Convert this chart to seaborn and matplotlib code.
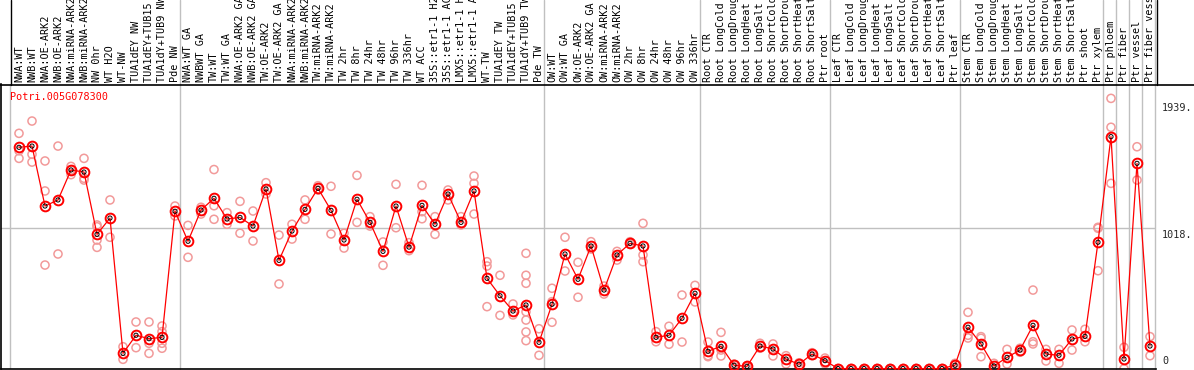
import numpy as np
import pandas as pd
import seaborn as sns
import matplotlib.pyplot as plt
from matplotlib.lines import Line2D
import matplotlib.transforms as mtransforms

sns.set_style('white')
plt.rcParams['font.family'] = ['DejaVu Sans Mono']

gene = 'Potri.005G078300'

samples = [
    'NWA:WT', 'NWB:WT', 'NWA:OE-ARK2', 'NWB:OE-ARK2', 'NWA:miRNA-ARK2', 'NWB:miRNA-ARK2',
    'NW 0hr', 'WT H2O', 'WT-NW', 'TUA1dEY NW', 'TUA1dEY+TUB15 NW', 'TUA1dY+TUB9 NW', 'Pde NW',
    'NWA:WT GA', 'NWBWT GA', 'TW:WT', 'TW:WT GA', 'NWA:OE-ARK2 GA', 'NWB:OE-ARK2 GA',
    'TW:OE-ARK2', 'TW:OE-ARK2 GA', 'NWA:miRNA-ARK2', 'NWB:miRNA-ARK2', 'TW:miRNA-ARK2',
    'TW:miRNA-ARK2', 'TW 2hr', 'TW 8hr', 'TW 24hr', 'TW 48hr', 'TW 96hr', 'TW 336hr', 'WT ACC',
    '35S::etr1-1 H2O', '35S::etr1-1 ACC', 'LMX5::etr1-1 H2O', 'LMX5::etr1-1 ACC', 'WT-TW',
    'TUA1dEY TW', 'TUA1dEY+TUB15 TW', 'TUA1dY+TUB9 TW', 'Pde TW',
    'OW:WT', 'OW:WT GA', 'OW:OE-ARK2', 'OW:OE-ARK2 GA', 'OW:miRNA-ARK2', 'OW:miRNA-ARK2',
    'OW 2hr', 'OW 8hr', 'OW 24hr', 'OW 48hr', 'OW 96hr', 'OW 336hr',
    'Root CTR', 'Root LongCold', 'Root LongDrought', 'Root LongHeat', 'Root LongSalt',
    'Root ShortCold', 'Root ShortDrought', 'Root ShortHeat', 'Root ShortSalt', 'Ptr root',
    'Leaf CTR', 'Leaf LongCold', 'Leaf LongDrought', 'Leaf LongHeat', 'Leaf LongSalt',
    'Leaf ShortCold', 'Leaf ShortDrought', 'Leaf ShortHeat', 'Leaf ShortSalt', 'Ptr leaf',
    'Stem CTR', 'Stem LongCold', 'Stem LongDrought', 'Stem LongHeat', 'Stem LongSalt',
    'Stem ShortCold', 'Stem ShortDrought', 'Stem ShortHeat', 'Stem ShortSalt', 'Ptr shoot',
    'Ptr xylem', 'Ptr phloem', 'Ptr fiber', 'Ptr vessel', 'Ptr fiber vessel',
]

# index of the last sample in each group
group_ends = [12, 40, 52, 62, 72, 83, 84, 85, 86, 87]

means = [
    1602, 1611, 1177, 1221, 1438, 1423, 972, 1090, 111, 242, 217, 227, 1139,
    922, 1148, 1233, 1083, 1095, 1032, 1300, 784, 996, 1153, 1305, 1146, 931, 1226,
    1059, 849, 1177, 880, 1182, 1045, 1264, 1059, 1286, 654, 528, 417, 461, 191,
    466, 830, 647, 888, 569, 823, 907, 888, 227, 242, 365, 546,
    126, 162, 25, 17, 164, 143, 70, 32, 106, 58,
    1, 1, 1, 1, 1, 1, 1, 1, 1, 25,
    300, 179, 20, 82, 135, 314, 106, 97, 215, 234,
    915, 1679, 70, 1486, 164,
]

replicates = [
    [1703, 1577, 1522], [1792, 1551, 1495], [1503, 1286, 750], [1611, 830],
    [1464, 1438, 1404], [1522, 1378, 1365], [1040, 1027, 931, 878], [1221, 951],
    [159, 68], [338, 152], [338, 184, 111], [309, 268, 184, 148], [1177, 1105],
    [1037, 806], [1168, 1119], [1441, 1179, 1081], [1129, 1045], [1211, 980],
    [1141, 924], [1346, 1264], [967, 613], [1045, 938], [1221, 1081], [1324, 1293],
    [1320, 975], [980, 873], [1399, 1059], [1100, 1032], [917, 748], [1334, 1020],
    [912, 854], [1327, 1136, 1085], [1100, 972], [1293, 1221], [1100, 1040],
    [1394, 1341, 1119], [774, 743, 449], [676, 386], [468, 389],
    [835, 676, 618, 412, 352, 266, 203], [289, 97],
    [582, 485, 336], [951, 707], [770, 517], [919, 866], [598, 540], [849, 786],
    [919, 902], [1052, 823, 774], [268, 195], [307, 177], [533, 193], [603, 483],
    [193, 94, 87], [263, 135, 92], [34, 14], [22, 12], [184, 148], [179, 92],
    [94, 34], [43, 20], [116, 94], [77, 34],
    [2, 1], [2, 1], [2, 1], [2, 1], [2, 1], [2, 1], [2, 1], [2, 1], [2, 1], [39, 10],
    [408, 242, 222], [232, 220, 87], [39, 0], [140, 34], [148, 119],
    [569, 195, 179], [140, 56], [140, 39], [280, 135], [285, 195],
    [1023, 1016, 709], [1956, 1747, 1341], [155, 0], [1606, 1365], [232, 94],
]

y_ticks = [0, 1018, 1939]
y_tick_labels = ['0', '1018.', '1939.']

pos = np.arange(len(samples))
rep_df = pd.DataFrame(
    [(i, v) for i, vals in enumerate(replicates) for v in vals],
    columns=['pos', 'value'])
mean_df = pd.DataFrame({'pos': pos, 'value': means})

W, H = 1194, 370
fig = plt.figure(figsize=(W / 100, H / 100), dpi=100)
ax = fig.add_axes([1 / W, 1 / H, 1155 / W, 285 / H])

ax.set_xlim((1 - 19) / 13, (1156 - 19) / 13)
ax.set_ylim(-2.2, 2060)

grey = '#c0c0c0'
ax_top = 369 / 285
ax.axvline(-0.69, 0, 1, color=grey, lw=1, zorder=0)
for g in group_ends:
    ax.axvline(g + 0.385, 0, ax_top, color=grey, lw=1, zorder=0, clip_on=False)
ax.axhline(1018, color=grey, lw=1, zorder=0)

sns.scatterplot(data=rep_df, x='pos', y='value', s=34, marker='o',
                facecolor='none', edgecolor='#f29a9a', linewidth=1.1,
                ax=ax, zorder=2, clip_on=True)
sns.lineplot(data=mean_df, x='pos', y='value', color='red', lw=0.9,
             ax=ax, zorder=3, marker='o', ms=7, mfc='none', mec='red', mew=1.4)
sns.scatterplot(data=mean_df, x='pos', y='value', s=9, marker='o',
                facecolor='none', edgecolor='black', linewidth=0.7,
                ax=ax, zorder=4)

for s in ['top', 'right']:
    ax.spines[s].set_visible(False)
for s in ['left', 'bottom']:
    ax.spines[s].set_color('black')
    ax.spines[s].set_linewidth(1.2)
ax.set_xticks([])
ax.set_yticks([])
ax.set_xlabel('')
ax.set_ylabel('')

# sample labels above the plot
lab_tr = mtransforms.blended_transform_factory(ax.transData, ax.transAxes)
for i, name in enumerate(samples):
    ax.text(i, 1.007, name, rotation=90, ha='center', va='bottom',
            fontsize=7.3, color='black', transform=lab_tr, clip_on=False)

# frame of label area
yl = 1 - 84.5 / H
fig.add_artist(Line2D([0, 1], [yl, yl], transform=fig.transFigure, color='black', lw=1.2))
fig.add_artist(Line2D([10.5 / W, 10.5 / W], [yl, 1], transform=fig.transFigure, color='black', lw=1))
fig.add_artist(Line2D([1156.5 / W, 1156.5 / W], [yl, 1], transform=fig.transFigure, color='black', lw=1))

ax.text(9 / 1155, (369 - 97) / 285, gene, color='red', fontsize=7.3,
        ha='left', va='center', transform=ax.transAxes)

# y value labels on the right
tk_tr = mtransforms.blended_transform_factory(ax.transAxes, ax.transData)
for v, t in zip(y_ticks, y_tick_labels):
    if v == 0:
        off = mtransforms.offset_copy(tk_tr, fig=fig, x=0, y=3, units='dots')
        va = 'bottom'
    else:
        off = mtransforms.offset_copy(tk_tr, fig=fig, x=0, y=-2, units='dots')
        va = 'top'
    ax.text((1162 - 1) / 1155, v, t, ha='left', va=va, fontsize=7.3,
            transform=off, clip_on=False)

fig.savefig('out.png', dpi=100)
